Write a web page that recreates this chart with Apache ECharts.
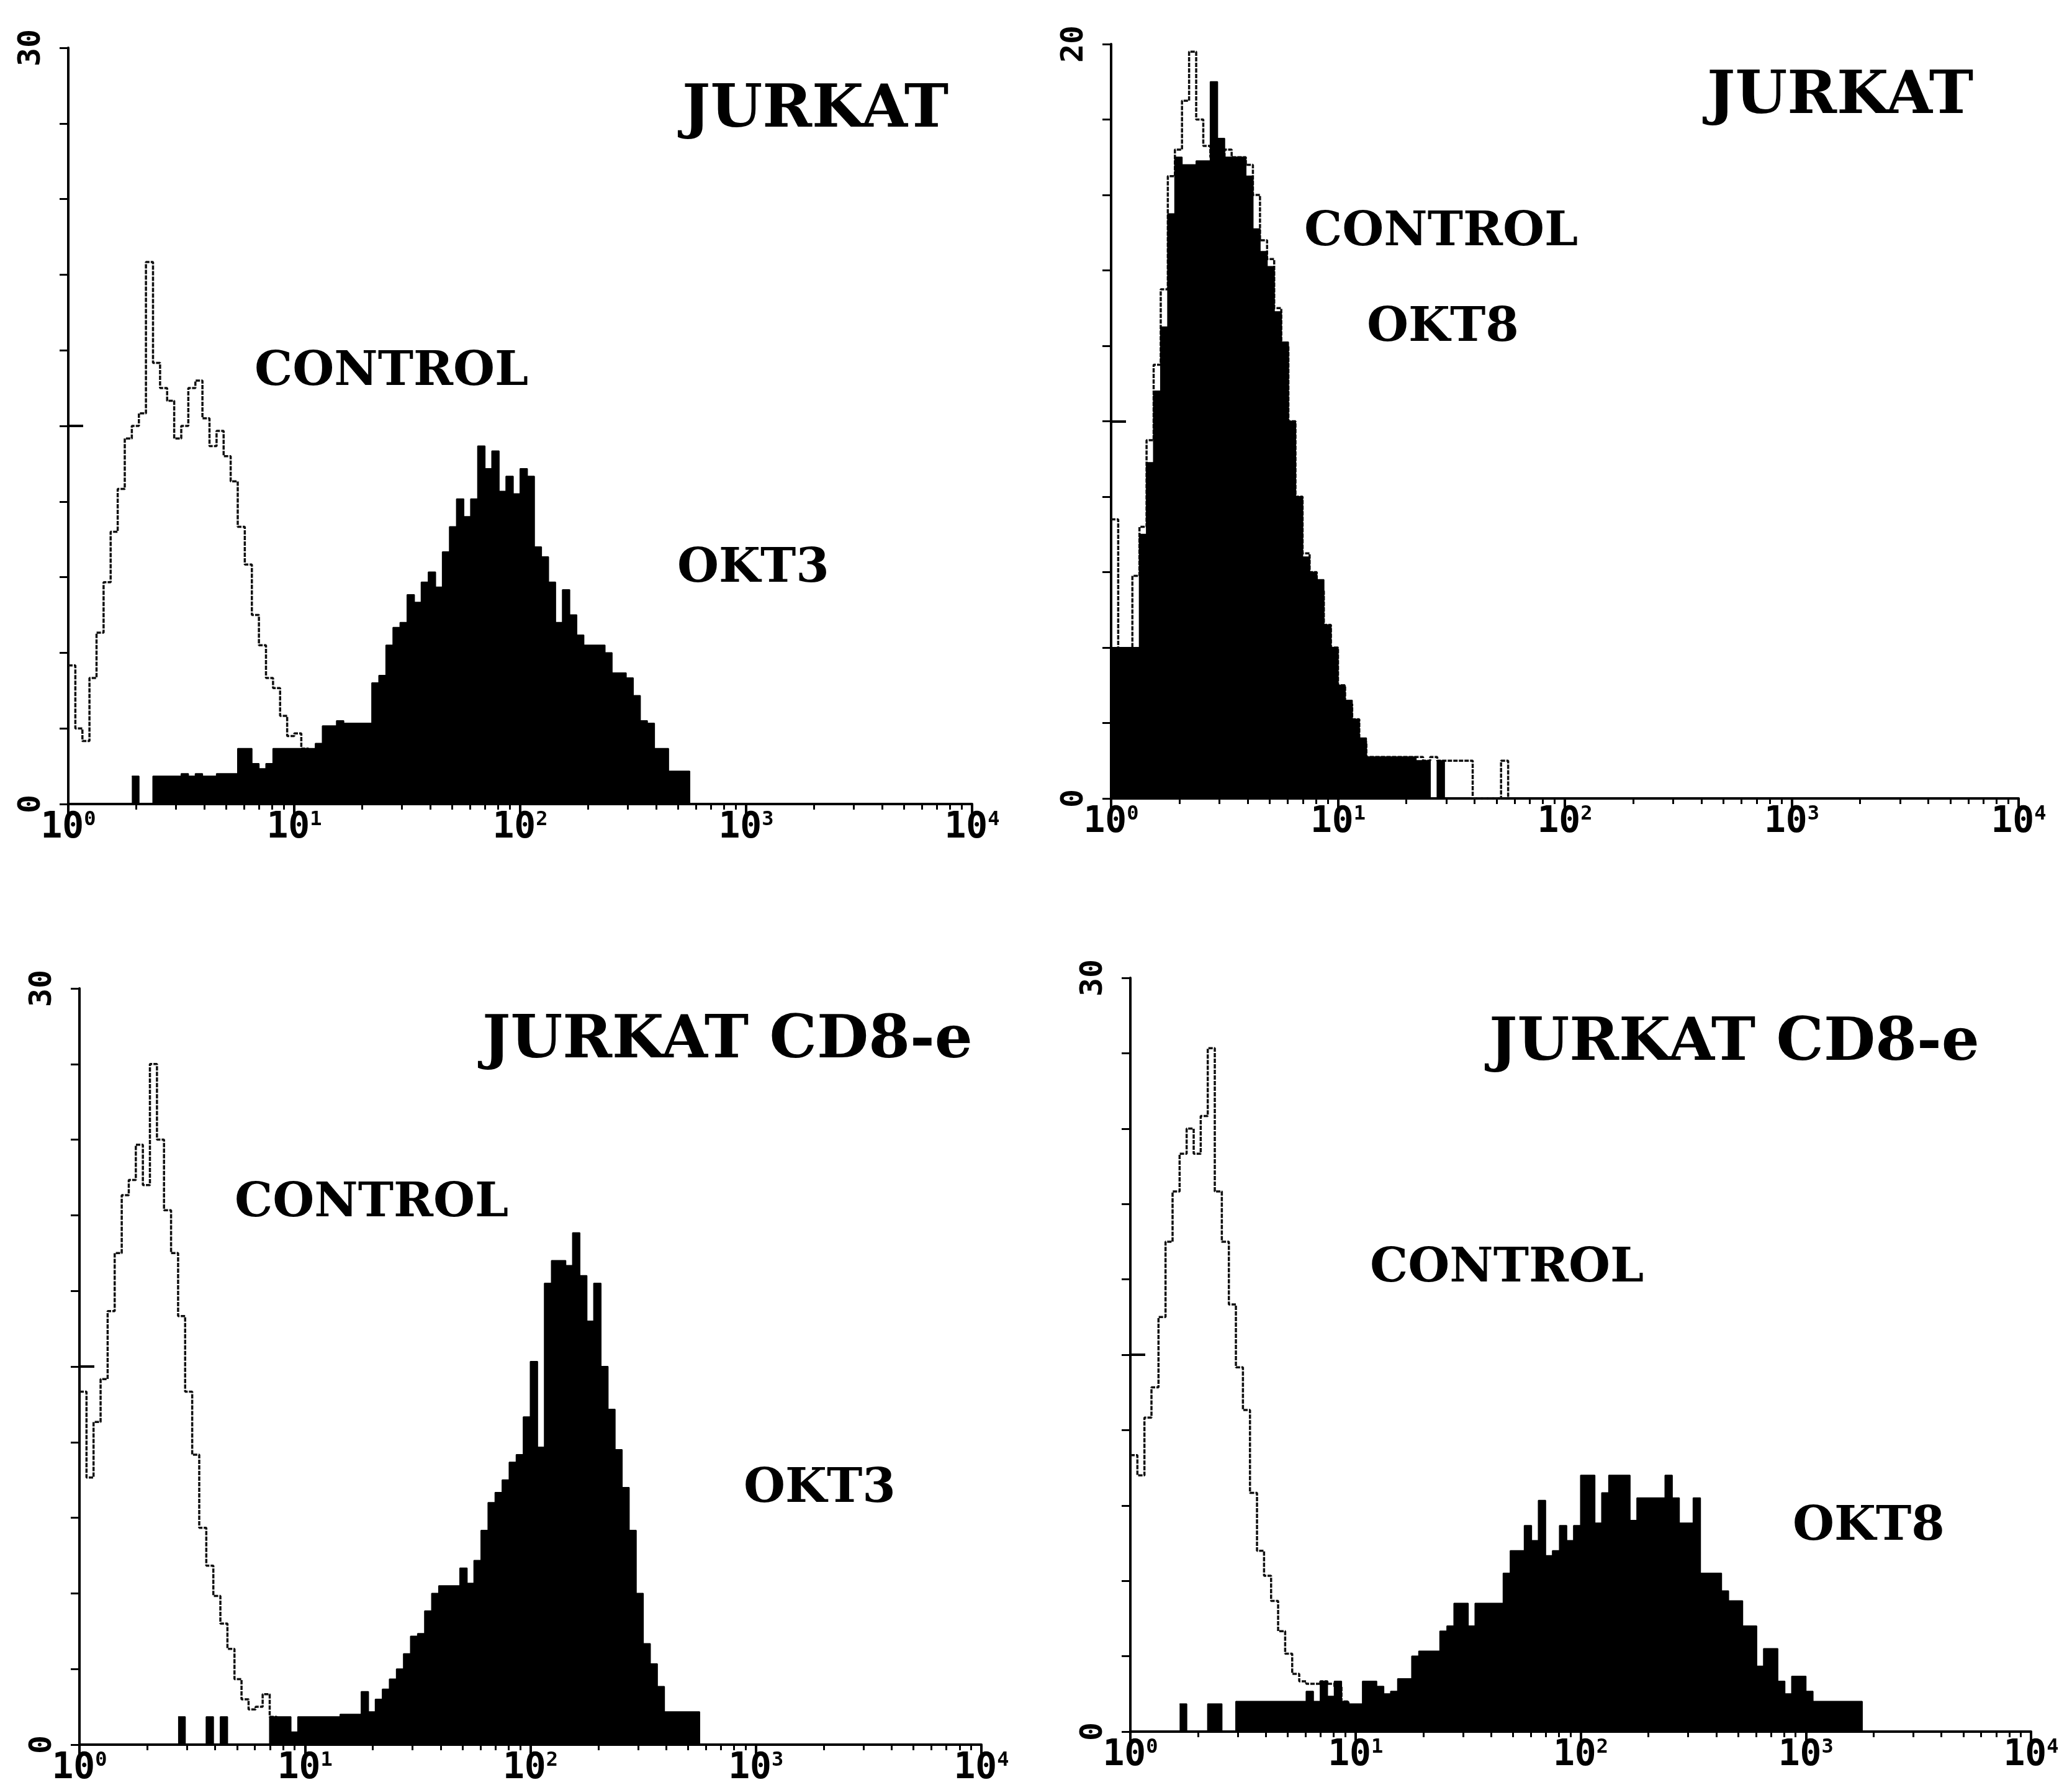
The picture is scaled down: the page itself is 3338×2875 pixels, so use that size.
<!DOCTYPE html>
<html>
<head>
<meta charset="utf-8">
<script src="https://cdn.jsdelivr.net/npm/echarts@6/dist/echarts.min.js"></script>
<style>
  html, body { margin: 0; padding: 0; background: #fff; }
  #chart { width: 3338px; height: 2875px; }
</style>
</head>
<body>
<div id="chart"></div>
<script>
// channels: 32 per decade, x = log10(fluorescence)
const binsPerDecade = 32
const xTickExponents = ['0', '1', '2', '3', '4']
const yMax = [30, 20, 30, 30]

const panelTitles = ['JURKAT', 'JURKAT', 'JURKAT CD8-e', 'JURKAT CD8-e']
const controlName = 'CONTROL'
const antibodyNames = ['OKT3', 'OKT8', 'OKT3', 'OKT8']

// panel 1: JURKAT, OKT3
const p1ControlStart = 0
const p1Control = [5.5, 3.0, 2.5, 5.0, 6.8, 8.8, 10.8, 12.5, 14.5, 15, 15.5, 21.5, 17.5, 16.5, 16, 14.5, 15, 16.5, 16.8, 15.3,
  14.2, 14.8, 13.8, 12.8, 11, 9.5, 7.5, 6.3, 5, 4.6, 3.5, 2.7, 2.8, 2.2, 1.5, 1]
const p1Okt3Start = 9
const p1Okt3 = [1.1, 0, 0, 1.1, 1.1, 1.1, 1.1, 1.2, 1.1, 1.2, 1.1, 1.1, 1.2, 1.2, 1.2, 2.2, 2.2, 1.6, 1.4, 1.6,
  2.2, 2.2, 2.2, 2.2, 2.2, 2.2, 2.4, 3.1, 3.1, 3.3, 3.2, 3.2, 3.2, 3.2, 4.8, 5.1, 6.3, 7.0, 7.2, 8.3,
  8.0, 8.8, 9.2, 8.6, 10.0, 11.0, 12.1, 11.4, 12.1, 14.2, 13.3, 14.0, 12.4, 13.0, 12.3, 13.3, 13.0, 10.2, 9.8, 8.8,
  7.2, 8.5, 7.5, 6.7, 6.3, 6.3, 6.3, 6.0, 5.2, 5.2, 5.0, 4.3, 3.3, 3.2, 2.2, 2.2, 1.3, 1.3, 1.3]

// panel 2: JURKAT, OKT8
const p2ControlStart = 0
const p2Control = [7.4, 3.0, 2.8, 5.9, 7.2, 9.5, 11.5, 13.5, 16.5, 17.2, 18.5, 19.8, 18.0, 17.3, 17.0, 17.0, 17.2, 17.0, 17.0, 16.8,
  16.0, 14.8, 14.3, 13.0, 12.0, 10.0, 8.0, 6.5, 6.0, 5.5, 4.6, 4.0, 3.0, 2.5, 2.1, 1.5, 1.1, 1.1, 1.1, 1.1,
  1.1, 1.1, 1.1, 1.1, 1.0, 1.1, 1.0, 1.0, 1.0, 1.0, 1.0, 0, 0, 0, 0, 1.0]
const p2Okt8Start = 0
const p2Okt8 = [4.0, 4.0, 4.0, 4.0, 7.0, 8.9, 10.8, 12.5, 15.5, 17.0, 16.8, 16.8, 16.9, 16.9, 19.0, 17.5, 17.0, 17.0, 17.0, 16.5,
  15.1, 14.5, 14.1, 12.9, 12.1, 10.0, 8.0, 6.4, 6.0, 5.8, 4.6, 4.0, 3.0, 2.6, 2.1, 1.6, 1.1, 1.1, 1.1, 1.1,
  1.1, 1.1, 1.1, 1.0, 1.0, 0, 1.0]

// panel 3: JURKAT CD8-e, OKT3
const p3ControlStart = 0
const p3Control = [14, 10.6, 12.8, 14.5, 17.2, 19.5, 21.8, 22.4, 23.8, 22.2, 27.0, 24.0, 21.2, 19.5, 17.0, 14.0, 11.5, 8.6, 7.1, 5.9,
  4.8, 3.8, 2.6, 1.8, 1.4, 1.5, 2.0, 1.1, 0.8]
const p3Okt3Start = 14
const p3Okt3 = [1.1, 0, 0, 0, 1.1, 0, 1.1, 0, 0, 0, 0, 0, 0, 1.1, 1.1, 1.1, 0.5, 1.1, 1.1, 1.1,
  1.1, 1.1, 1.1, 1.2, 1.2, 1.2, 2.1, 1.3, 1.8, 2.2, 2.6, 3.0, 3.6, 4.3, 4.4, 5.3, 6.0, 6.3, 6.3, 6.3,
  7.0, 6.4, 7.3, 8.5, 9.6, 10.0, 10.5, 11.2, 11.5, 13.0, 15.2, 11.8, 18.3, 19.2, 19.2, 19.0, 20.3, 18.6, 16.8, 18.3,
  15.0, 13.3, 11.7, 10.2, 8.5, 6.0, 4.0, 3.2, 2.3, 1.3, 1.3, 1.3, 1.3, 1.3]

// panel 4: JURKAT CD8-e, OKT8
const p4ControlStart = 0
const p4Control = [11.0, 10.2, 12.5, 13.7, 16.5, 19.5, 21.5, 23.0, 24.0, 23.0, 24.5, 27.2, 21.5, 19.5, 17.0, 14.5, 12.8, 9.5, 7.2, 6.2,
  5.2, 4.0, 3.1, 2.3, 2.0, 1.9, 1.9, 2.0, 1.9, 1.8, 1.2]
const p4Okt8Start = 7
const p4Okt8 = [1.1, 0, 0, 0, 1.1, 1.1, 0, 0, 1.2, 1.2, 1.2, 1.2, 1.2, 1.2, 1.2, 1.2, 1.2, 1.2, 1.6, 1.2,
  2.0, 1.4, 2.0, 1.2, 1.1, 1.1, 2.0, 2.0, 1.8, 1.5, 1.6, 2.1, 2.1, 3.0, 3.2, 3.2, 3.2, 4.0, 4.2, 5.1,
  5.1, 4.2, 5.1, 5.1, 5.1, 5.1, 6.3, 7.2, 7.2, 8.2, 7.6, 9.2, 7.0, 7.2, 8.2, 7.6, 8.2, 10.2, 10.2, 8.3,
  9.5, 10.2, 10.2, 10.2, 8.4, 9.3, 9.3, 9.3, 9.3, 10.2, 9.3, 8.3, 8.3, 9.3, 6.3, 6.3, 6.3, 5.6, 5.2, 5.2,
  4.2, 4.2, 2.6, 3.3, 3.3, 2.0, 1.5, 2.2, 2.2, 1.6, 1.2, 1.2, 1.2, 1.2, 1.2, 1.2, 1.2]

const controls = [[p1ControlStart, p1Control], [p2ControlStart, p2Control], [p3ControlStart, p3Control], [p4ControlStart, p4Control]]
const stained = [[p1Okt3Start, p1Okt3], [p2Okt8Start, p2Okt8], [p3Okt3Start, p3Okt3], [p4Okt8Start, p4Okt8]]

// plot boxes (px)
const grids = [
  { left: 110, top: 77, width: 1456, height: 1218 },
  { left: 1790, top: 71, width: 1462, height: 1215 },
  { left: 128, top: 1592, width: 1453, height: 1218 },
  { left: 1821, top: 1575, width: 1451, height: 1214 }
]

// text placement: [x, y] of left / middle
const titlePos = [[1099, 179], [2750, 157], [777, 1678], [2399, 1682]]
const controlPos = [[410, 600], [2101, 375], [378, 1939], [2207, 2044]]
const antibodyPos = [[1091, 917], [2202, 529], [1198, 2399], [2888, 2460]]

const toSteps = (start, counts) => {
  const pts = counts.map((c, i) => [(start + i) / binsPerDecade, c])
  pts.push([(start + counts.length) / binsPerDecade, 0])
  return pts
}

// log minor ticks at 2..9 of every decade
const minorTicks = []
for (let d = 0; d < 4; d++) {
  for (let m = 2; m <= 9; m++) minorTicks.push(d + Math.log10(m))
}

const mono = '"DejaVu Sans Mono", monospace'
const serif = '"DejaVu Serif", serif'

const xAxes = []
const yAxes = []
const series = []
grids.forEach((g, i) => {
  xAxes.push({
    gridIndex: i, type: 'value', min: 0, max: 4, interval: 1, position: 'bottom',
    axisLine: { show: true, onZero: false, lineStyle: { color: '#000', width: 4 } },
    axisTick: { show: true, length: 18, lineStyle: { color: '#000', width: 4 } },
    axisLabel: {
      margin: 10,
      formatter: v => '{b|10}{s|' + xTickExponents[Math.round(v)] + '}',
      rich: {
        b: { fontFamily: mono, fontSize: 58, color: '#000', fontWeight: 'bold' },
        s: { fontFamily: mono, fontSize: 32, color: '#000', verticalAlign: 'top', fontWeight: 'bold' }
      }
    },
    splitLine: { show: false }
  })
  xAxes.push({
    gridIndex: i, type: 'value', min: 0, max: 4, position: 'bottom',
    axisLine: { show: false },
    axisTick: { show: true, length: 9, customValues: minorTicks, lineStyle: { color: '#000', width: 3 } },
    axisLabel: { show: false },
    splitLine: { show: false }
  })
  yAxes.push({
    gridIndex: i, type: 'value', min: 0, max: yMax[i], interval: yMax[i] / 10,
    axisLine: { show: true, lineStyle: { color: '#000', width: 4 } },
    axisTick: { show: true, length: 14, lineStyle: { color: '#000', width: 3 } },
    axisLabel: {
      rotate: 90, margin: 34, color: '#000', fontFamily: mono, fontSize: 50, fontWeight: 'bold',
      formatter: v => (v === 0 || v === yMax[i]) ? String(v) : ''
    },
    splitLine: { show: false }
  })
  // longer mid-scale tick
  yAxes.push({
    gridIndex: i, type: 'value', min: 0, max: yMax[i],
    axisLine: { show: false },
    axisTick: { show: true, length: 24, customValues: [yMax[i] / 2], lineStyle: { color: '#000', width: 4 } },
    axisLabel: { show: false },
    splitLine: { show: false }
  })
  series.push({
    type: 'line', xAxisIndex: i * 2, yAxisIndex: i * 2, step: 'end', symbol: 'none', z: 2,
    data: toSteps(controls[i][0], controls[i][1]),
    lineStyle: { color: '#111', width: 3.5, type: [7, 2] }
  })
  series.push({
    type: 'line', xAxisIndex: i * 2, yAxisIndex: i * 2, step: 'end', symbol: 'none', z: 3,
    data: toSteps(stained[i][0], stained[i][1]),
    lineStyle: { color: '#000', width: 2 },
    areaStyle: { color: '#000', opacity: 1 }
  })
})

const texts = []
grids.forEach((g, i) => {
  texts.push({ type: 'text', x: titlePos[i][0], y: titlePos[i][1],
    style: { text: panelTitles[i], font: 'bold 96px ' + serif, fill: '#000', verticalAlign: 'middle' } })
  texts.push({ type: 'text', x: controlPos[i][0], y: controlPos[i][1],
    style: { text: controlName, font: 'bold 77px ' + serif, fill: '#000', verticalAlign: 'middle' } })
  texts.push({ type: 'text', x: antibodyPos[i][0], y: antibodyPos[i][1],
    style: { text: antibodyNames[i], font: 'bold 77px ' + serif, fill: '#000', verticalAlign: 'middle' } })
})

const chart = echarts.init(document.getElementById('chart'), null, { renderer: 'canvas' })
chart.setOption({
  animation: false,
  backgroundColor: '#fff',
  grid: grids.map(g => Object.assign({ containLabel: false, outerBoundsMode: 'none' }, g)),
  xAxis: xAxes,
  yAxis: yAxes,
  series: series,
  graphic: texts
})
</script>
</body>
</html>
